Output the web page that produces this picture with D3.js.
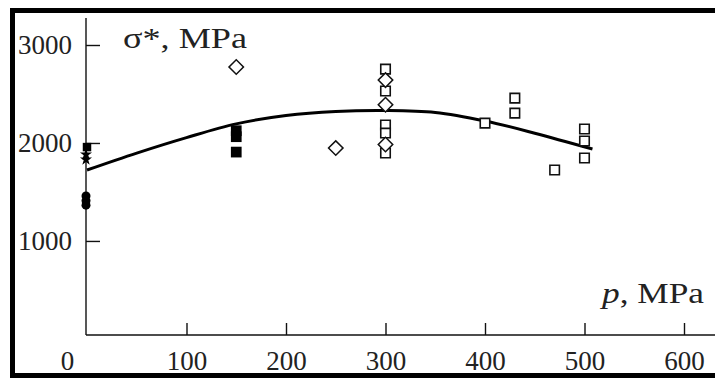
<!DOCTYPE html>
<html>
<head>
<meta charset="utf-8">
<script src="https://cdn.jsdelivr.net/npm/d3@7"></script>
<style>
  html, body { margin: 0; padding: 0; background: #fff; overflow: hidden; }
  svg { display: block; }
  text { font-family: "Liberation Serif", "Times New Roman", serif; fill: #222; }
</style>
</head>
<body>
<svg id="chart" width="715" height="378"></svg>
<script>
// Pressure p (MPa) and strength sigma* (MPa)
const xTicks = [0, 100, 200, 300, 400, 500, 600];
const yTicks = [1000, 2000, 3000];

// Filled squares
const filledSqP = [0, 150, 150, 150];
const filledSqS = [1958, 2125, 2064, 1907];
// Filled stars
const starP = [0, 0];
const starS = [1882, 1831];
// Filled circles
const circP = [0, 0, 0];
const circS = [1460, 1410, 1365];
// Open squares
const openSqP = [300, 300, 300, 300, 300, 400, 430, 430, 470, 500, 500, 500];
const openSqS = [2754, 2530, 2183, 2101, 1897, 2203, 2458, 2305, 1724, 2142, 2020, 1846];
// Open diamonds
const diaP = [150, 250, 300, 300, 300];
const diaS = [2776, 1948, 2642, 2390, 1985];
// Fitted curve
const fitP = [0, 50, 100, 150, 200, 250, 300, 350, 400, 450, 508];
const fitS = [1724, 1897, 2055, 2195, 2280, 2322, 2332, 2312, 2225, 2100, 1938];

const svg = d3.select("#chart");

const x = d3.scaleLinear().domain([0, 600]).range([87, 684]);
const y = d3.scaleLinear().domain([40, 3000]).range([335, 45]);
const x0 = x(0) - 1, yBase = y(40);

// frame
svg.append("path")
  .attr("d", `M12.5,378 V10.5 H715`)
  .attr("fill", "none").attr("stroke", "#000").attr("stroke-width", 5);
svg.append("line").attr("x1", 10).attr("x2", 715).attr("y1", 375.5).attr("y2", 375.5)
  .attr("stroke", "#000").attr("stroke-width", 5);

// axes lines
svg.append("line").attr("x1", x0).attr("x2", x0).attr("y1", 18).attr("y2", yBase)
  .attr("stroke", "#111").attr("stroke-width", 1.4);
svg.append("line").attr("x1", x0).attr("x2", 715).attr("y1", yBase).attr("y2", yBase)
  .attr("stroke", "#111").attr("stroke-width", 1.4);

// x axis
const gx = svg.append("g").attr("transform", `translate(0,${yBase})`)
  .call(d3.axisBottom(x).tickValues(xTicks).tickFormat(d3.format("d"))
    .tickSizeInner(-12).tickSizeOuter(0).tickPadding(16));
gx.select(".domain").remove();
gx.selectAll(".tick line").attr("stroke", "#111").attr("stroke-width", 1.4)
  .attr("display", d => d === 0 ? "none" : null);
gx.selectAll(".tick text").attr("font-size", 27).attr("font-family", "Liberation Serif")
  .attr("fill", "#222")
  .attr("dx", d => d === 0 ? -20 : 0);

// y axis
const gy = svg.append("g").attr("transform", `translate(${x0},0)`)
  .call(d3.axisLeft(y).tickValues(yTicks).tickFormat(d3.format("d"))
    .tickSizeInner(-14).tickSizeOuter(0).tickPadding(14));
gy.select(".domain").remove();
gy.selectAll(".tick line").attr("stroke", "#111").attr("stroke-width", 1.4);
gy.selectAll(".tick text").attr("font-size", 27).attr("font-family", "Liberation Serif")
  .attr("fill", "#222");

// axis titles
svg.append("text").attr("x", 123).attr("y", 48).attr("font-size", 29)
  .attr("textLength", 124).attr("lengthAdjust", "spacingAndGlyphs")
  .text("σ*, MPa");
const xt = svg.append("text").attr("x", 602).attr("y", 303).attr("font-size", 29)
  .attr("textLength", 102).attr("lengthAdjust", "spacingAndGlyphs");
xt.append("tspan").attr("font-style", "italic").text("p");
xt.append("tspan").text(", MPa");

// fitted curve
const line = d3.line().x(d => x(d[0])).y(d => y(d[1])).curve(d3.curveCatmullRom);
svg.append("path").datum(d3.zip(fitP, fitS)).attr("d", line)
  .attr("fill", "none").attr("stroke", "#000").attr("stroke-width", 3);

const sym = (type, size) => d3.symbol().type(type).size(size)();

// filled circles
svg.append("g").selectAll("circle").data(d3.zip(circP, circS)).join("circle")
  .attr("cx", d => x(d[0]) - 1).attr("cy", d => y(d[1])).attr("r", 4.5).attr("fill", "#000");
// filled stars
svg.append("g").selectAll("path").data(d3.zip(starP, starS)).join("path")
  .attr("transform", d => `translate(${x(d[0]) - 1},${y(d[1])})`)
  .attr("d", sym(d3.symbolStar, 45)).attr("fill", "#000");
// filled squares
svg.append("g").selectAll("path").data(d3.zip(filledSqP, filledSqS)).join("path")
  .attr("transform", d => `translate(${x(d[0])},${y(d[1])})`)
  .attr("d", (d) => sym(d3.symbolSquare, d[0] === 0 ? 72 : 115)).attr("fill", "#000");
// open squares
svg.append("g").selectAll("path").data(d3.zip(openSqP, openSqS)).join("path")
  .attr("transform", d => `translate(${x(d[0])},${y(d[1])})`)
  .attr("d", sym(d3.symbolSquare, 90)).attr("fill", "#fff")
  .attr("stroke", "#111").attr("stroke-width", 1.6);
// open diamonds
svg.append("g").selectAll("path").data(d3.zip(diaP, diaS)).join("path")
  .attr("transform", d => `translate(${x(d[0])},${y(d[1])}) rotate(45)`)
  .attr("d", sym(d3.symbolSquare, 105)).attr("fill", "#fff")
  .attr("stroke", "#111").attr("stroke-width", 1.5);
</script>
</body>
</html>
